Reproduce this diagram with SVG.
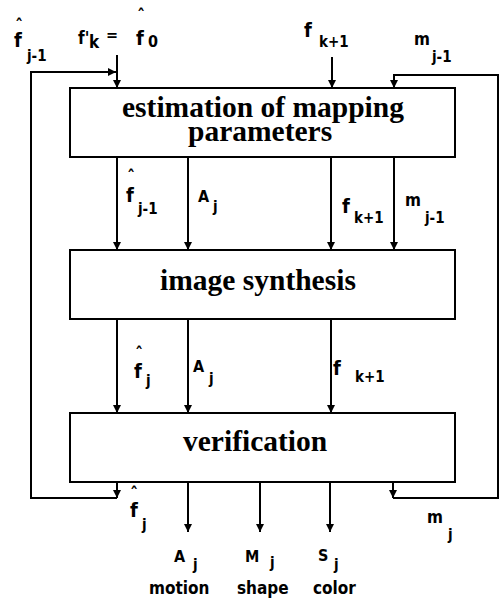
<svg xmlns="http://www.w3.org/2000/svg" width="503" height="604" viewBox="0 0 503 604">
<style>
.box{fill:#fff;stroke:#000;stroke-width:2}
.ttl{font-family:"Liberation Serif","Times New Roman",serif;font-weight:bold;font-size:29.5px;fill:#000}
.ln{fill:none;stroke:#000;stroke-width:2}
.L{font-family:"DejaVu Sans Condensed","DejaVu Sans",sans-serif;font-weight:bold;fill:#000}
.f{font-size:20px}
.s{font-size:15px}
.c{font-size:16px}
.m{font-size:17px}
.h{font-size:17px;text-anchor:middle}
.w{font-size:17px}
</style>
<defs>
<marker id="ah" markerUnits="userSpaceOnUse" markerWidth="9" markerHeight="9" refX="8" refY="4.5" orient="auto">
<path d="M0,0.5 L8,4.5 L0,8.5 z" fill="#000"/>
</marker>
</defs>
<rect width="503" height="604" fill="#fff"/>

<g id="connectors">
<path class="ln" d="M117,55 V88" marker-end="url(#ah)"/>
<path class="ln" d="M332,57 V88" marker-end="url(#ah)"/>
<path class="ln" d="M117,482 V498" marker-end="url(#ah)"/>
<path class="ln" d="M117,498 H31 V72 H116" marker-end="url(#ah)"/>
<path class="ln" d="M393,482 V498" marker-end="url(#ah)"/>
<path class="ln" d="M393,498 H498 V75 H394 V88" marker-end="url(#ah)"/>
<path class="ln" d="M117,157 V250" marker-end="url(#ah)"/>
<path class="ln" d="M188,157 V250" marker-end="url(#ah)"/>
<path class="ln" d="M331,157 V250" marker-end="url(#ah)"/>
<path class="ln" d="M394,157 V250" marker-end="url(#ah)"/>
<path class="ln" d="M117,319 V413" marker-end="url(#ah)"/>
<path class="ln" d="M188,319 V413" marker-end="url(#ah)"/>
<path class="ln" d="M331,319 V413" marker-end="url(#ah)"/>
<path class="ln" d="M188,482 V532" marker-end="url(#ah)"/>
<path class="ln" d="M260,482 V532" marker-end="url(#ah)"/>
<path class="ln" d="M330,482 V532" marker-end="url(#ah)"/>
</g>

<g id="estimation">
<rect class="box" x="70" y="88" width="385" height="69"/>
<text class="ttl" x="122" y="117">estimation of mapping</text>
<text class="ttl" x="188" y="141">parameters</text>
</g>

<g id="synthesis">
<rect class="box" x="70" y="250" width="385" height="69"/>
<text class="ttl" x="160" y="290">image synthesis</text>
</g>

<g id="verification">
<rect class="box" x="70" y="413" width="385" height="69"/>
<text class="ttl" x="183" y="451">verification</text>
</g>

<g id="labels">
<text class="L h" x="19" y="32">ˆ</text>
<text class="L f" x="14" y="47">f</text>
<text class="L s" x="27" y="61">j-1</text>

<text class="L m" x="78" y="44">f'</text>
<text class="L m" x="89" y="48">k</text>
<text class="L c" x="106" y="40">=</text>
<text class="L h" x="141" y="22">ˆ</text>
<text class="L f" x="136" y="45">f</text>
<text class="L c" x="148" y="47">0</text>

<text class="L f" x="304" y="37">f</text>
<text class="L s" x="319" y="47">k+1</text>
<text class="L m" x="414" y="45">m</text>
<text class="L s" x="432" y="62">j-1</text>

<text class="L h" x="131" y="183">ˆ</text>
<text class="L f" x="126" y="202">f</text>
<text class="L s" x="138" y="214">j-1</text>
<text class="L c" x="198" y="202">A</text>
<text class="L s" x="213" y="212">j</text>
<text class="L f" x="342" y="213">f</text>
<text class="L s" x="354" y="223">k+1</text>
<text class="L m" x="405" y="206">m</text>
<text class="L s" x="425" y="223">j-1</text>

<text class="L h" x="139" y="360">ˆ</text>
<text class="L f" x="134" y="378">f</text>
<text class="L s" x="146" y="386">j</text>
<text class="L c" x="193" y="372">A</text>
<text class="L s" x="209" y="384">j</text>
<text class="L f" x="333" y="375">f</text>
<text class="L s" x="355" y="382">k+1</text>

<text class="L h" x="134" y="500">ˆ</text>
<text class="L f" x="130" y="517">f</text>
<text class="L s" x="142" y="530">j</text>
<text class="L m" x="427" y="523">m</text>
<text class="L s" x="448" y="540">j</text>

<text class="L c" x="174" y="562">A</text>
<text class="L s" x="193" y="570">j</text>
<text class="L c" x="245" y="562">M</text>
<text class="L s" x="270" y="568">j</text>
<text class="L c" x="318" y="561">S</text>
<text class="L s" x="334" y="570">j</text>
<text class="L w" x="149" y="594">motion</text>
<text class="L w" x="237" y="594">shape</text>
<text class="L w" x="313" y="594">color</text>
</g>
</svg>
